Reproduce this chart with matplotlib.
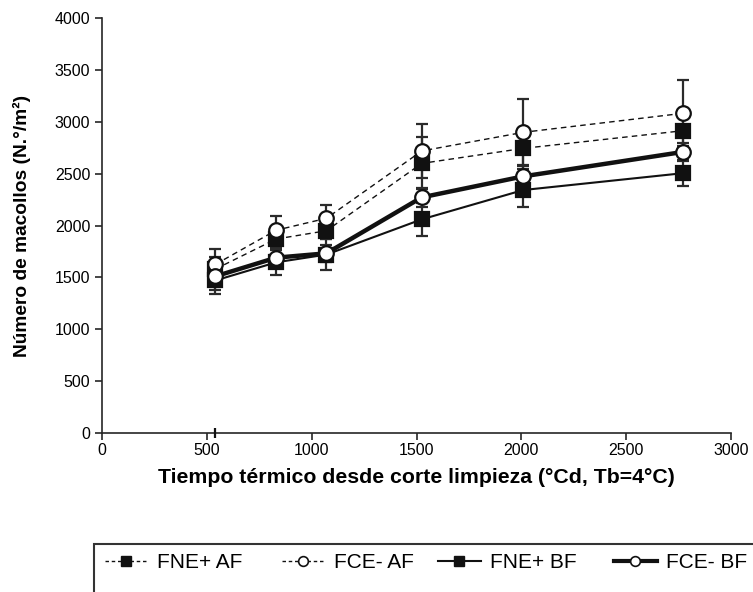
import matplotlib
matplotlib.use("Agg")
import matplotlib.pyplot as plt
from matplotlib.lines import Line2D
from matplotlib.patches import Rectangle

plt.rcParams['font.family'] = ['Liberation Sans', 'DejaVu Sans']

# Tiempo termico (°Cd)
tiempo = [540, 830, 1070, 1525, 2010, 2770]

# Numero de macollos por tratamiento y su error
fne_af = [1580, 1870, 1950, 2600, 2745, 2915]
fne_af_err = [120, 90, 75, 250, 200, 150]
fce_af = [1625, 1955, 2070, 2720, 2900, 3083]
fce_af_err = [150, 140, 125, 265, 320, 320]
fne_bf = [1470, 1645, 1720, 2060, 2343, 2505]
fne_bf_err = [130, 120, 150, 160, 160, 125]
fce_bf = [1510, 1690, 1732, 2272, 2475, 2710]
fce_bf_err = [130, 100, 80, 90, 100, 87]

nombres = ["FNE+ AF", "FCE- AF", "FNE+ BF", "FCE- BF"]

dark = "#111111"
err_col = "#2b2b2b"

fig = plt.figure(figsize=(7.53, 5.92), dpi=100)
ax = fig.add_axes([0.1358, 0.269, 0.9705 - 0.1358, 0.969 - 0.269])

series = [
    (fne_af, fne_af_err, dict(ls=(0, (4, 3)), lw=1.0, marker="s", mfc=dark, ms=10.5)),
    (fce_af, fce_af_err, dict(ls=(0, (4, 3)), lw=1.0, marker="o", mfc="white", ms=10.5)),
    (fne_bf, fne_bf_err, dict(ls="-", lw=1.5, marker="s", mfc=dark, ms=10.5)),
    (fce_bf, fce_bf_err, dict(ls="-", lw=3.2, marker="o", mfc="white", ms=10.5)),
]

# error bars first, behind everything
for vals, err, st in series:
    ax.errorbar(tiempo, vals, yerr=err, fmt="none", ecolor=err_col, elinewidth=1.6,
                capsize=4.5, capthick=1.6, zorder=2)

for vals, err, st in series:
    ax.plot(tiempo, vals, color=dark, mec=dark, mew=1.6, zorder=3, **st)

# small mark on the x axis at first sampling date
ax.vlines(tiempo[0], -50, 50, color=dark, lw=1.6, clip_on=False, zorder=4)

ax.set_xlim(0, 3000)
ax.set_ylim(0, 4000)
ax.set_xticks(range(0, 3001, 500))
ax.set_yticks(range(0, 4001, 500))
ax.spines['top'].set_visible(False)
ax.spines['right'].set_visible(False)
for s in ['left', 'bottom']:
    ax.spines[s].set_color("#262626")
    ax.spines[s].set_linewidth(1.2)
ax.tick_params(direction="out", length=5, width=1.2, color="#262626",
               labelsize=11.5, labelcolor="black")
ax.tick_params(axis="x", pad=2.5)

ax.set_xlabel("Tiempo térmico desde corte limpieza (°Cd, Tb=4°C)",
              fontsize=15.3, fontweight="bold", labelpad=7)
ax.set_ylabel("Número de macollos (N.°/m²)", fontsize=13.8, fontweight="bold", labelpad=17)

# legend, one entry at a time so each sits where it does in the original
handles = [
    Line2D([], [], color=dark, ls=(0, (2.5, 2)), lw=1.0, marker="s", mfc=dark, mec=dark, ms=7),
    Line2D([], [], color=dark, ls=(0, (2.5, 2)), lw=1.0, marker="o", mfc="white", mec=dark, ms=7, mew=1.2),
    Line2D([], [], color=dark, ls="-", lw=1.5, marker="s", mfc=dark, mec=dark, ms=7),
    Line2D([], [], color=dark, ls="-", lw=3.0, marker="o", mfc="white", mec=dark, ms=7, mew=1.2),
]
leg_x = [105, 282, 438, 614]
for h, name, xp in zip(handles, nombres, leg_x):
    fig.legend([h], [name], loc="center left", bbox_to_anchor=(xp / 753, 0.049),
               frameon=False, fontsize=15, handlelength=2.05, handletextpad=0.43,
               borderpad=0, borderaxespad=0)
fig.patches.append(Rectangle((94 / 753, -0.1), 1.0, 1 - 544 / 592 + 0.1,
                             transform=fig.transFigure, fill=False,
                             edgecolor="#333333", lw=1.5))

plt.savefig("out.png", dpi=100)
